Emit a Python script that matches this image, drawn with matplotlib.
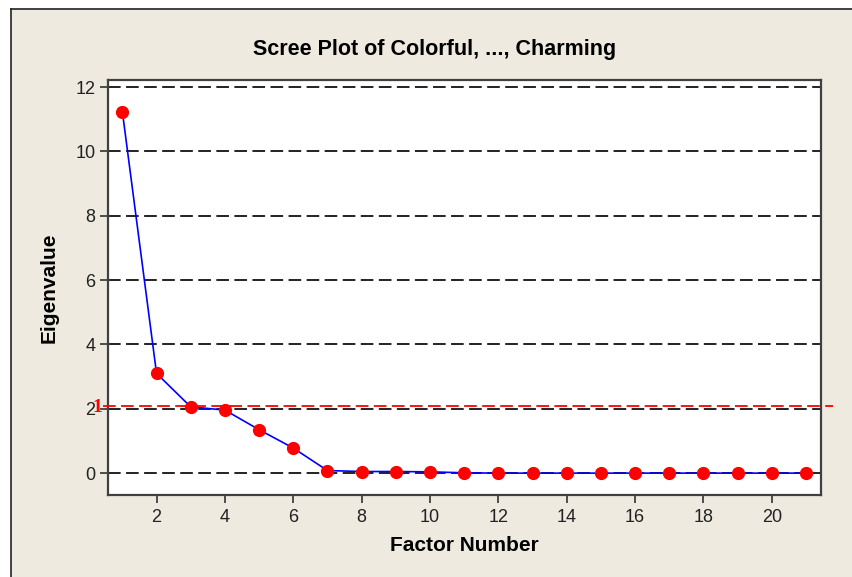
import matplotlib
matplotlib.use("Agg")
import matplotlib.pyplot as plt
from matplotlib.patches import Rectangle
from matplotlib.lines import Line2D
import matplotlib.transforms as mtransforms

plt.rcParams['font.family'] = ['Liberation Sans', 'DejaVu Sans']

# ---- data ----
factors = list(range(1, 22))
eigenvalues = [11.24, 3.10, 2.06, 1.96, 1.35, 0.78, 0.08, 0.05, 0.05, 0.04,
               0.01, 0.0, 0.0, 0.0, 0.0, 0.0, 0.0, 0.0, 0.0, 0.0, 0.0]
x_ticks = [2, 4, 6, 8, 10, 12, 14, 16, 18, 20]
y_ticks = [0, 2, 4, 6, 8, 10, 12]
ref_value = 2.09
ref_label = "1"
title = "Scree Plot of Colorful, ..., Charming"
xlabel = "Factor Number"
ylabel = "Eigenvalue"

W, H = 852, 577
fig = plt.figure(figsize=(W / 100, H / 100), dpi=100, facecolor='white')

# outer beige panel with dark top/left border
bg = '#EEEAE0'
fig.add_artist(Rectangle((11 / W, 0), 1 - 11 / W, 1 - 9 / H, transform=fig.transFigure,
                         facecolor=bg, edgecolor='none', zorder=-10))
fig.add_artist(Line2D([11 / W, 11 / W], [0, 1 - 9 / H], transform=fig.transFigure,
                      color='#222222', lw=1.2, zorder=-9))
fig.add_artist(Line2D([11 / W, 1], [1 - 9 / H, 1 - 9 / H], transform=fig.transFigure,
                      color='#222222', lw=1.2, zorder=-9))

left, right, top, bottom = 108, 821, 80, 495
ax = fig.add_axes([left / W, 1 - bottom / H, (right - left) / W, (bottom - top) / H])
ax.set_facecolor('white')

ax.set_xlim(0.58, 21.44)
ax.set_ylim(-0.68, 12.22)

for yv in y_ticks:
    ax.axhline(yv, color='#111111', lw=1.3, ls=(0, (7, 3)), zorder=1)

ax.plot(factors, eigenvalues, color='blue', lw=1.2, zorder=3)
ax.plot(factors, eigenvalues, ls='none', marker='o', ms=8.5, color='red',
        markeredgecolor='red', zorder=4)

# reference line (extends past axes)
trans = mtransforms.blended_transform_factory(ax.transAxes, ax.transData)
ax.add_line(Line2D([(103 - left) / (right - left), (833 - left) / (right - left)],
                   [ref_value, ref_value], transform=trans, color='red', lw=1.3,
                   ls=(0, (7, 3)), clip_on=False, zorder=5))
ax.text((102 - left) / (right - left), ref_value - 0.05, ref_label, transform=trans,
        color='red', fontsize=14, fontweight='bold', family='Liberation Serif',
        ha='right', va='center', clip_on=False)

ax.set_xticks(x_ticks)
ax.set_yticks(y_ticks)
ax.tick_params(axis='both', direction='out', length=6, width=1.2, color='#333333',
               labelsize=13, labelcolor='#222222')
ax.tick_params(axis='x', pad=4)
ax.tick_params(axis='y', pad=3)
for s in ax.spines.values():
    s.set_color('#404040')
    s.set_linewidth(1.6)

ax.set_xlabel(xlabel, fontsize=15, fontweight='bold', labelpad=7)
ax.set_ylabel(ylabel, fontsize=15, fontweight='bold', labelpad=12)
fig.text(435 / W, 1 - 49 / H, title, fontsize=15.5, fontweight='bold',
         ha='center', va='center')

fig.savefig('out.png', dpi=100, facecolor='white')
